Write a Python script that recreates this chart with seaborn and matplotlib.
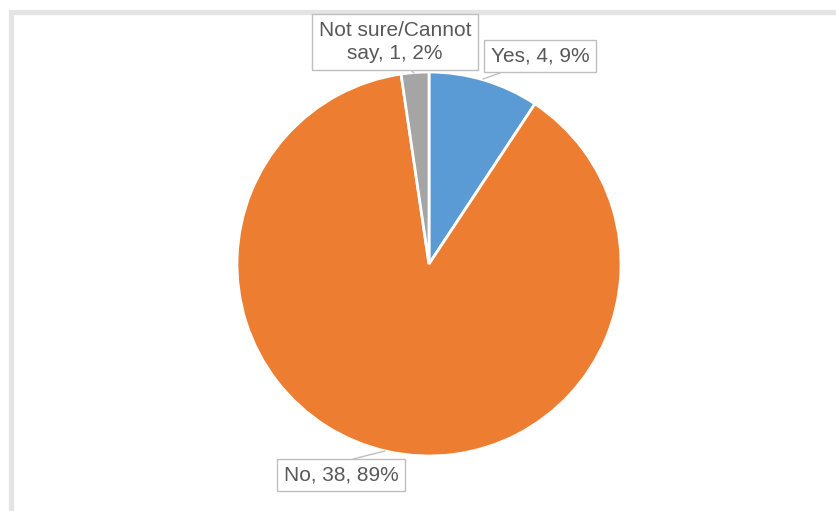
import matplotlib
matplotlib.use("Agg")
import matplotlib.pyplot as plt
from matplotlib.patches import Rectangle
import seaborn as sns

# Survey responses
categories = ["Yes", "No", "Not sure/Cannot\nsay"]
counts = [4, 38, 1]
percents = [9, 89, 2]
colors = ["#5B9BD5", "#ED7D31", "#A5A5A5"]

sns.set_theme(style="white")
plt.rcParams["font.family"] = ["Liberation Sans", "DejaVu Sans"]

W, H = 837, 511
fig = plt.figure(figsize=(W / 100, H / 100), dpi=100)
ax = fig.add_axes([0, 0, 1, 1])

cx, cy, r = 429, H - 264, 192
wedges, _ = ax.pie(counts, colors=colors, startangle=90, counterclock=False,
                   center=(cx, cy), radius=r, frame=True,
                   wedgeprops=dict(edgecolor="white", linewidth=2))
ax.set_xlim(0, W)
ax.set_ylim(0, H)
ax.set_aspect("equal")
ax.axis("off")

# Outer chart frame (light grey, runs past the right and bottom edges)
ax.add_patch(Rectangle((11.5, -60), 1000, H - 11.5 + 60, fill=False,
                       edgecolor="#E4E4E4", linewidth=3.8, zorder=0,
                       clip_on=False))

labels = [f"{c}, {n}, {p}%" for c, n, p in zip(categories, counts, percents)]

box = dict(boxstyle="square,pad=0.33", facecolor="white", edgecolor="#BFBFBF", linewidth=1.0)
txt = dict(fontsize=15, color="#595959", ha="center", va="center",
           linespacing=1.3, bbox=box, zorder=5)

# label positions (text centre) and leader end points
label_pos = [(540, H - 56), (341, H - 475), (395, H - 42)]
leader_end = [(483, H - 79), (385, H - 451), (414, H - 73)]
leader_start = [(500, H - 73), (353, H - 459), (410, H - 69)]

for lab, pos, s, e in zip(labels, label_pos, leader_start, leader_end):
    ax.text(pos[0], pos[1], lab, **txt)
    ax.plot([s[0], e[0]], [s[1], e[1]], color="#BFBFBF", linewidth=1.0, zorder=4)

fig.savefig("out.png", dpi=100, facecolor="white")
